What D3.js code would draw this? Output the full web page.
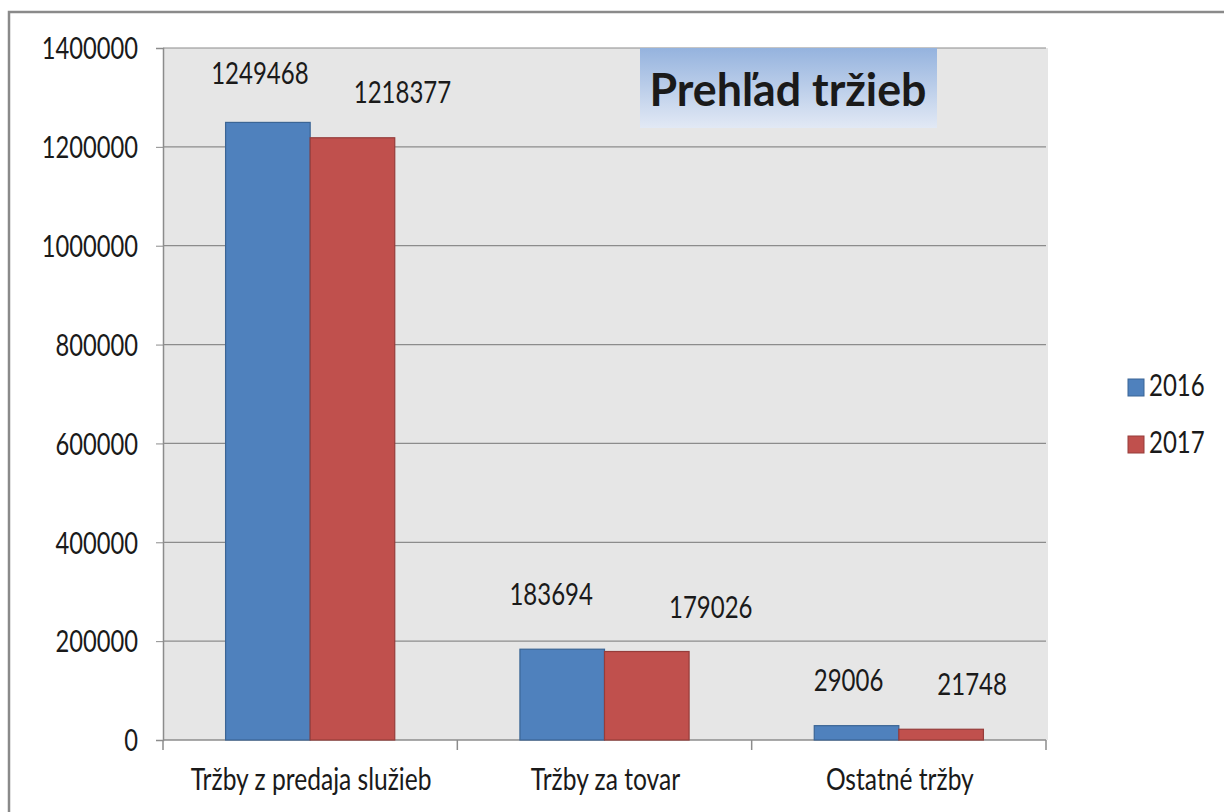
<!DOCTYPE html>
<html>
<head>
<meta charset="utf-8">
<script src="https://cdn.jsdelivr.net/npm/d3@7"></script>
<style>
	body { margin: 0; background: #fff; }
	text { font-family: Lato, "Open Sans", sans-serif; fill: #1a1a1a; }
</style>
</head>
<body>
<div id="chart"></div>
<script>

// data
var categories= ["Tržby z predaja služieb", "Tržby za tovar", "Ostatné tržby"];
var series= ["2016", "2017"];
var values2016= [1249468, 183694, 29006];
var values2017= [1218377, 179026, 21748];
var yTicks= [0, 200000, 400000, 600000, 800000, 1000000, 1200000, 1400000];
var colors= ["#4f81bd", "#c0504d"];
var strokes= ["#3b6595", "#963c3a"];

// hand placed value labels (dx from bar centre, dy above bar top), like in the original
var labelShift= [
	[[-8, 38], [-11, 44], [-8, 35]],
	[[50, 35], [64, 34], [31, 34]]
];

var W= 1224, H= 812;
var margin= {top: 48, left: 163, right: 178, bottom: 72};
var width= W- margin.left- margin.right;
var height= H- margin.top- margin.bottom;

// the original text is narrow and tall, squeeze it sideways
var fontSize= "30px";
function narrow(sel, k) {
	k= k || 0.8;
	sel.each(function() {
		var len= this.getComputedTextLength();
		d3.select(this)
			.attr("textLength", len* k)
			.attr("lengthAdjust", "spacingAndGlyphs");
	});
}

var svg= d3.select("#chart")
	.append("svg")
	.attr("width", W)
	.attr("height", H);

// outer frame
svg.append("rect")
	.attr("x", 9).attr("y", 12)
	.attr("width", W+ 20).attr("height", H+ 20)
	.attr("fill", "none")
	.attr("stroke", "#8a8a8a")
	.attr("stroke-width", 2.5);

var defs= svg.append("defs");
var grad= defs.append("linearGradient")
	.attr("id", "titleGrad")
	.attr("x1", 0).attr("y1", 0).attr("x2", 0).attr("y2", 1);
grad.append("stop").attr("offset", "0%").attr("stop-color", "#95b3de");
grad.append("stop").attr("offset", "100%").attr("stop-color", "#e2e9f5");

var canvas= svg.append("g")
	.attr("transform", "translate(" + margin.left + "," + margin.top + ")");

var x0= d3.scaleBand()
	.domain(categories)
	.range([0, width])
	.paddingInner(0)
	.paddingOuter(0);

var x1= d3.scaleBand()
	.domain(series)
	.range([0, x0.bandwidth()])
	.paddingOuter(0.74);

var y= d3.scaleLinear()
	.domain([0, 1400000])
	.range([height, 0]);

// plot background
canvas.append("rect")
	.attr("x", 0).attr("y", 0)
	.attr("width", width+ 2).attr("height", height)
	.attr("fill", "#e6e6e6");

// grid lines
canvas.append("g")
	.selectAll("line")
	.data(yTicks.filter(function(d) { return d> 0; }))
	.enter().append("line")
		.attr("x1", 0).attr("x2", width)
		.attr("y1", function(d) { return y(d); })
		.attr("y2", function(d) { return y(d); })
		.attr("stroke", "#8c8c8c")
		.attr("stroke-width", 1.2);

// y axis
var yAxis= canvas.append("g")
	.call(d3.axisLeft(y).tickValues(yTicks).tickSize(7).tickPadding(18).tickFormat(d3.format("d")));
yAxis.attr("font-family", null).attr("font-size", null);
yAxis.select(".domain").attr("stroke", "#8c8c8c").attr("stroke-width", 1.5);
yAxis.selectAll(".tick line").attr("stroke", "#8c8c8c");
yAxis.selectAll("text")
	.style("font-size", fontSize)
	.attr("fill", "#1a1a1a")
	.attr("dy", "0.36em")
	.call(narrow, 0.79);

// x axis
var xAxis= canvas.append("g")
	.attr("transform", "translate(0," + height + ")");
xAxis.append("line")
	.attr("x1", 0).attr("x2", width)
	.attr("stroke", "#8c8c8c").attr("stroke-width", 1.5);
xAxis.selectAll(".sep")
	.data(d3.range(categories.length+ 1))
	.enter().append("line")
		.attr("class", "sep")
		.attr("x1", function(i) { return i* x0.bandwidth(); })
		.attr("x2", function(i) { return i* x0.bandwidth(); })
		.attr("y1", 0).attr("y2", 10)
		.attr("stroke", "#8c8c8c").attr("stroke-width", 1.5);
xAxis.selectAll(".cat")
	.data(categories)
	.enter().append("text")
		.attr("class", "cat")
		.attr("x", function(d) { return x0(d)+ x0.bandwidth()/ 2+ 1; })
		.attr("y", 50)
		.style("text-anchor", "middle")
		.style("font-size", fontSize)
		.text(function(d) { return d; })
		.call(narrow, 0.82);

// bars
var allValues= [values2016, values2017];
series.forEach(function(s, si) {
	var g= canvas.append("g");
	g.selectAll("rect")
		.data(allValues[si])
		.enter().append("rect")
			.attr("x", function(d, i) { return x0(categories[i])+ x1(s); })
			.attr("y", function(d) { return y(d); })
			.attr("width", x1.bandwidth())
			.attr("height", function(d) { return height- y(d); })
			.attr("fill", colors[si])
			.attr("stroke", strokes[si])
			.attr("stroke-width", 1.2);
	g.selectAll("text")
		.data(allValues[si])
		.enter().append("text")
			.attr("x", function(d, i) { return x0(categories[i])+ x1(s)+ x1.bandwidth()/ 2+ labelShift[si][i][0]; })
			.attr("y", function(d, i) { return y(d)- labelShift[si][i][1]; })
			.style("text-anchor", "middle")
			.style("font-size", fontSize)
			.text(function(d) { return d; })
			.call(narrow, 0.8);
});

// title box
var title= canvas.append("g").attr("transform", "translate(" + (640- margin.left) + ",0)");
title.append("rect")
	.attr("width", 297).attr("height", 80)
	.attr("fill", "url(#titleGrad)");
title.append("text")
	.attr("x", 148).attr("y", 58)
	.style("text-anchor", "middle")
	.style("font-size", "46px")
	.style("font-weight", "bold")
	.attr("fill", "#000")
	.attr("textLength", 277)
	.attr("lengthAdjust", "spacingAndGlyphs")
	.text("Prehľad tržieb");

// legend
var legend= svg.append("g").attr("transform", "translate(1128,379)");
series.forEach(function(s, si) {
	var row= legend.append("g").attr("transform", "translate(0," + (si* 57) + ")");
	row.append("rect")
		.attr("width", 16).attr("height", 17)
		.attr("fill", colors[si])
		.attr("stroke", strokes[si]);
	row.append("text")
		.attr("x", 21).attr("y", 17)
		.style("font-size", fontSize)
		.text(s)
		.call(narrow, 0.8);
});

</script>
</body>
</html>
